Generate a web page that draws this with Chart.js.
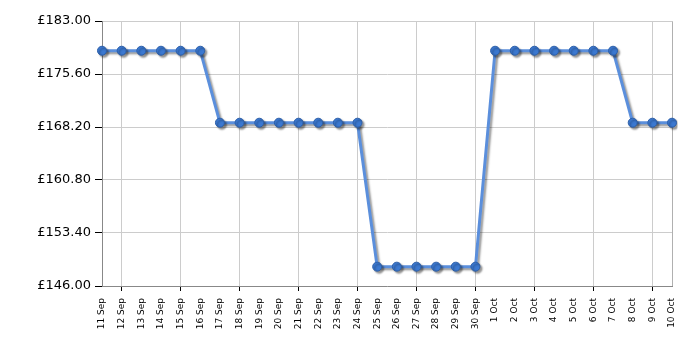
<!DOCTYPE html>
<html>
<head>
<meta charset="utf-8">
<script src="https://cdn.jsdelivr.net/npm/chart.js@4/dist/chart.umd.min.js"></script>
<style>
  body { margin: 0; background: #fff; }
  #wrap { width: 700px; height: 350px; }
</style>
</head>
<body>
<div id="wrap"><canvas id="grafica" width="700" height="350"></canvas></div>
<script>
// price history data
var labels = ['11 Sep','12 Sep','13 Sep','14 Sep','15 Sep','16 Sep','17 Sep','18 Sep','19 Sep','20 Sep',
              '21 Sep','22 Sep','23 Sep','24 Sep','25 Sep','26 Sep','27 Sep','28 Sep','29 Sep','30 Sep',
              '1 Oct','2 Oct','3 Oct','4 Oct','5 Oct','6 Oct','7 Oct','8 Oct','9 Oct','10 Oct'];
var prices = [178.85,178.85,178.85,178.85,178.85,178.85,
              168.8,168.8,168.8,168.8,168.8,168.8,168.8,168.8,
              148.7,148.7,148.7,148.7,148.7,148.7,
              178.85,178.85,178.85,178.85,178.85,178.85,178.85,
              168.8,168.8,168.8];
var yTicks = [146, 153.4, 160.8, 168.2, 175.6, 183];

// shadow under the line + frame on top/right
var shadowPlugin = {
  id: 'shadow',
  beforeDatasetsDraw: function(chart) {
    var ctx = chart.ctx;
    ctx.save();
    ctx.shadowColor = 'rgba(0,0,0,0.4)';
    ctx.shadowOffsetX = 2;
    ctx.shadowOffsetY = 2;
    ctx.shadowBlur = 2;
  },
  afterDatasetsDraw: function(chart) {
    chart.ctx.restore();
  },
  beforeDraw: function(chart) {
    var a = chart.chartArea, ctx = chart.ctx;
    ctx.save();
    ctx.strokeStyle = '#b0b0b0';
    ctx.lineWidth = 1;
    ctx.beginPath();
    ctx.moveTo(a.left, a.top + 0.5);
    ctx.lineTo(a.right + 0.5, a.top + 0.5);
    ctx.lineTo(a.right + 0.5, a.bottom);
    ctx.stroke();
    ctx.restore();
  }
};

var ctx = document.getElementById('grafica').getContext('2d');
new Chart(ctx, {
  type: 'line',
  data: {
    labels: labels,
    datasets: [{
      data: prices,
      borderColor: '#5b8fdc',
      borderWidth: 3,
      pointRadius: 4.5,
      pointBackgroundColor: '#3b78d0',
      pointBorderColor: '#2d5fa8',
      pointBorderWidth: 1,
      tension: 0,
      fill: false
    }]
  },
  options: {
    responsive: false,
    animation: false,
    layout: { padding: { top: 21, right: 28, left: 0, bottom: 0 } },
    plugins: { legend: { display: false }, tooltip: { enabled: false } },
    scales: {
      x: {
        offset: false,
        afterFit: function(s) { s.height = 64; },
        grid: {
          color: function(c) { return c.index % 3 === 1 ? '#cccccc' : 'rgba(0,0,0,0)'; },
          tickColor: function(c) { return c.index % 3 === 1 ? '#000000' : 'rgba(0,0,0,0)'; },
          tickLength: 5
        },
        border: { color: '#888888' },
        ticks: {
          autoSkip: false,
          maxRotation: 90,
          minRotation: 90,
          padding: 7,
          color: '#000',
          font: { family: 'DejaVu Sans', size: 9 }
        }
      },
      y: {
        min: 146,
        max: 183,
        afterFit: function(s) { s.width = 102; },
        afterBuildTicks: function(s) {
          s.ticks = yTicks.map(function(v) { return { value: v }; });
        },
        grid: { color: '#cccccc', tickColor: '#000000', tickLength: 7 },
        border: { color: '#888888' },
        ticks: {
          padding: 4,
          color: '#000',
          font: { family: 'DejaVu Sans', size: 13 },
          callback: function(v) { return '\u00a3' + Number(v).toFixed(2); }
        }
      }
    }
  },
  plugins: [shadowPlugin]
});
</script>
</body>
</html>
